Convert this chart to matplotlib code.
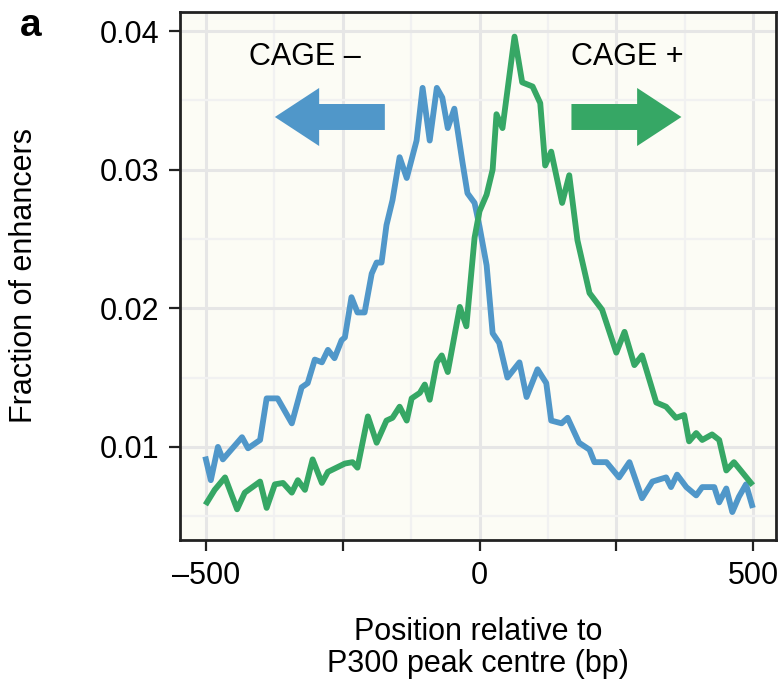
import numpy as np
import matplotlib
matplotlib.use("Agg")
import matplotlib.pyplot as plt
from matplotlib.ticker import MultipleLocator

plt.rcParams.update({"font.family": ["Liberation Sans", "DejaVu Sans"],
                     "font.size": 22})

# CAGE - (blue)
minus_pos = [-500, -491, -478, -469, -434, -423, -401, -389, -369, -343, -325, -314,
             -301, -288, -277, -265, -252, -246, -234, -223, -210, -197, -188, -179,
             -170, -159, -146, -133, -115, -104, -91, -78, -68, -58, -46, -31, -22,
             -9, 0, 13, 24, 36, 51, 73, 86, 106, 122, 131, 150, 161, 182, 201, 210,
             232, 255, 274, 297, 316, 341, 350, 361, 378, 396, 407, 429, 438, 451,
             462, 474, 487, 498]
minus_val = [0.0091, 0.0076, 0.0100, 0.0091, 0.0107, 0.0099, 0.0105, 0.0135, 0.0135,
             0.0117, 0.0143, 0.0146, 0.0163, 0.0161, 0.0170, 0.0164, 0.0177, 0.0179,
             0.0208, 0.0197, 0.0197, 0.0225, 0.0233, 0.0233, 0.0260, 0.0278, 0.0309,
             0.0294, 0.0321, 0.0359, 0.0321, 0.0359, 0.0352, 0.0330, 0.0344, 0.0305,
             0.0283, 0.0276, 0.0259, 0.0231, 0.0182, 0.0175, 0.0150, 0.0161, 0.0136,
             0.0156, 0.0146, 0.0119, 0.0117, 0.0121, 0.0103, 0.0098, 0.0089, 0.0089,
             0.0078, 0.0089, 0.0063, 0.0075, 0.0078, 0.0071, 0.0080, 0.0071, 0.0065,
             0.0071, 0.0071, 0.0060, 0.0070, 0.0053, 0.0064, 0.0073, 0.0058]

# CAGE + (green)
plus_pos = [-498, -484, -465, -443, -429, -401, -389, -374, -359, -343, -332, -319,
            -305, -288, -277, -246, -232, -223, -204, -188, -170, -159, -146, -133,
            -124, -109, -100, -91, -78, -69, -58, -36, -24, -9, 0, 13, 24, 31, 42,
            64, 78, 97, 111, 120, 131, 151, 164, 179, 201, 224, 250, 265, 283, 297,
            323, 341, 359, 374, 383, 396, 407, 425, 438, 451, 465, 496]
plus_val = [0.0060, 0.0069, 0.0078, 0.0055, 0.0067, 0.0075, 0.0056, 0.0073, 0.0074,
            0.0067, 0.0076, 0.0069, 0.0091, 0.0074, 0.0082, 0.0088, 0.0089, 0.0085,
            0.0122, 0.0103, 0.0119, 0.0121, 0.0129, 0.0119, 0.0135, 0.0139, 0.0145,
            0.0134, 0.0161, 0.0166, 0.0154, 0.0201, 0.0187, 0.0251, 0.0270, 0.0282,
            0.0300, 0.0340, 0.0330, 0.0396, 0.0363, 0.0360, 0.0348, 0.0303, 0.0313,
            0.0276, 0.0296, 0.0249, 0.0211, 0.0199, 0.0168, 0.0183, 0.0159, 0.0166,
            0.0132, 0.0129, 0.0121, 0.0123, 0.0104, 0.0110, 0.0105, 0.0109, 0.0105,
            0.0083, 0.0089, 0.0074]

BLUE = "#5097C9"
GREEN = "#36A765"

fig = plt.figure(figsize=(7.8, 6.85), dpi=100)
ax = fig.add_axes([0.231, 0.212, 0.764, 0.771])
ax.set_facecolor("#FCFCF5")

ax.set_xlim(-547, 542)
ax.set_ylim(0.0033, 0.0414)
ax.xaxis.set_major_locator(MultipleLocator(250))
ax.xaxis.set_minor_locator(MultipleLocator(125))
ax.yaxis.set_major_locator(MultipleLocator(0.01))
ax.yaxis.set_minor_locator(MultipleLocator(0.005))
ax.grid(which="major", color="#E6E6E6", lw=2.2, zorder=0)
ax.grid(which="minor", color="#F1F1F1", lw=1.6, zorder=0)
ax.set_axisbelow(True)

ax.plot(minus_pos, minus_val, color=BLUE, lw=4.2, solid_joinstyle="round", zorder=3)
ax.plot(plus_pos, plus_val, color=GREEN, lw=4.2, solid_joinstyle="round", zorder=3)

# direction arrows and labels
ax.annotate("", xy=(-374, 0.0338), xytext=(-173, 0.0338),
            arrowprops=dict(arrowstyle="simple,head_width=1.9,head_length=1.45,tail_width=0.85",
                            color=BLUE, lw=0, shrinkA=0, shrinkB=0))
ax.annotate("", xy=(369, 0.0338), xytext=(168, 0.0338),
            arrowprops=dict(arrowstyle="simple,head_width=1.9,head_length=1.45,tail_width=0.85",
                            color=GREEN, lw=0, shrinkA=0, shrinkB=0))
ax.text(-319, 0.0381, "CAGE \u2013", ha="center", va="center", fontsize=22)
ax.text(270, 0.0381, "CAGE +", ha="center", va="center", fontsize=22)

ax.set_xticks([-500, -250, 0, 250, 500])
ax.set_xticklabels(["\u2013500", "", "0", "", "500"])
ax.set_yticks([0.01, 0.02, 0.03, 0.04])
ax.set_yticklabels(["0.01", "0.02", "0.03", "0.04"])
ax.tick_params(which="major", direction="out", length=8, width=1.6, color="#222222",
               labelsize=22, pad=7)
ax.tick_params(which="minor", length=0)
for s in ax.spines.values():
    s.set_linewidth(2)
    s.set_color("#222222")

ax.set_xlabel("Position relative to\nP300 peak centre (bp)", fontsize=22, labelpad=19,
              linespacing=1.1)
ax.set_ylabel("Fraction of enhancers", fontsize=22, labelpad=44)

fig.text(0.026, 0.962, "a", fontsize=28, fontweight="bold", ha="left", va="center")

fig.savefig("out.png", dpi=100)
